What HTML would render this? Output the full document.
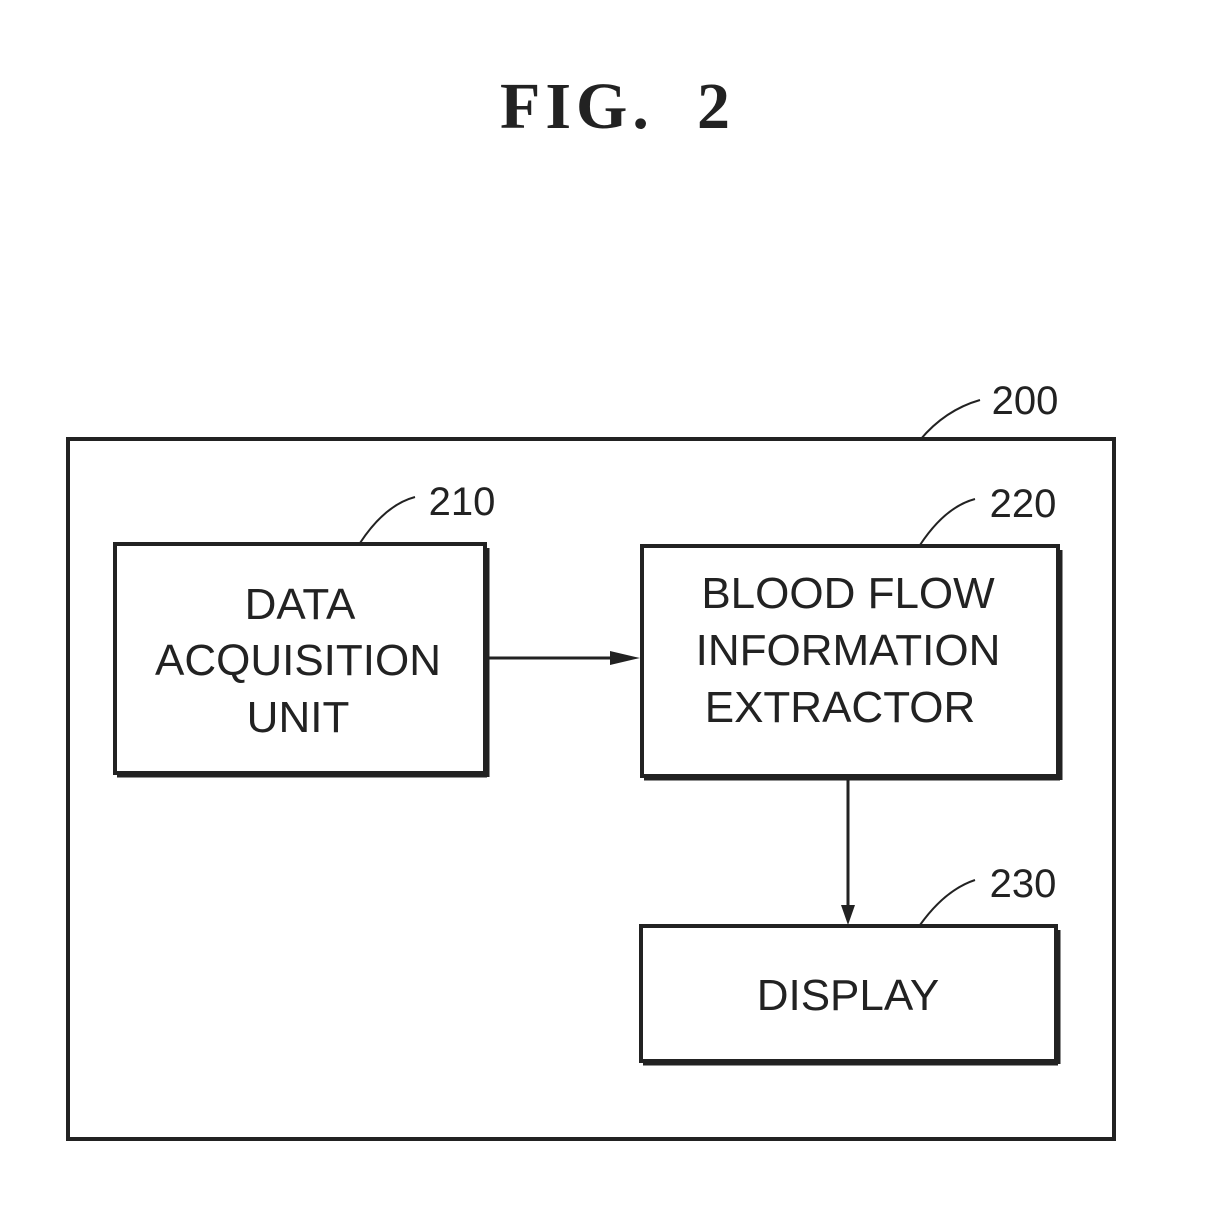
<!DOCTYPE html>
<html><head><style>
body{margin:0;background:#fff;}
</style></head><body>
<svg width="1205" height="1228" xmlns="http://www.w3.org/2000/svg" style="display:block">
<text x="500" y="128" font-family="Liberation Serif, serif" font-weight="bold" font-size="66" letter-spacing="5" fill="#222">FIG.</text>
<text x="697" y="128" font-family="Liberation Serif, serif" font-weight="bold" font-size="66" fill="#222">2</text>
<g fill="none" stroke="#222">
<rect x="68" y="439" width="1046" height="700" stroke-width="4"/>
<rect x="115" y="544" width="370" height="229" stroke-width="4"/>
<line x1="487" y1="548" x2="487" y2="777" stroke-width="5"/>
<line x1="117" y1="775" x2="487" y2="775" stroke-width="5"/>
<rect x="642" y="546" width="416" height="230" stroke-width="4"/>
<line x1="1060" y1="550" x2="1060" y2="780" stroke-width="5"/>
<line x1="644" y1="778" x2="1060" y2="778" stroke-width="5"/>
<rect x="641" y="926" width="415" height="135" stroke-width="4"/>
<line x1="1058" y1="930" x2="1058" y2="1064" stroke-width="5"/>
<line x1="643" y1="1063" x2="1058" y2="1063" stroke-width="5"/>
<line x1="487" y1="658" x2="625" y2="658" stroke-width="3"/>
<line x1="848" y1="780" x2="848" y2="910" stroke-width="3"/>
<path d="M920 440 Q945 410 980 400" stroke-width="2"/>
<path d="M360 543 Q385 505 415 497" stroke-width="2"/>
<path d="M920 545 Q945 507 975 499" stroke-width="2"/>
<path d="M920 925 Q945 890 975 880" stroke-width="2"/>
</g>
<path d="M640 658 L610 651 L610 665 Z" fill="#222"/>
<path d="M848 925 L841 905 L855 905 Z" fill="#222"/>
<g font-family="Liberation Sans, sans-serif" font-size="44" fill="#222" text-anchor="middle">
<text x="300" y="619">DATA</text>
<text x="298" y="675">ACQUISITION</text>
<text x="298" y="732">UNIT</text>
<text x="848" y="608">BLOOD FLOW</text>
<text x="848" y="665">INFORMATION</text>
<text x="840" y="722">EXTRACTOR</text>
<text x="848" y="1010">DISPLAY</text>
<text x="1025" y="414" font-size="40">200</text>
<text x="462" y="515" font-size="40">210</text>
<text x="1023" y="517" font-size="40">220</text>
<text x="1023" y="897" font-size="40">230</text>
</g>
</svg>
</body></html>
